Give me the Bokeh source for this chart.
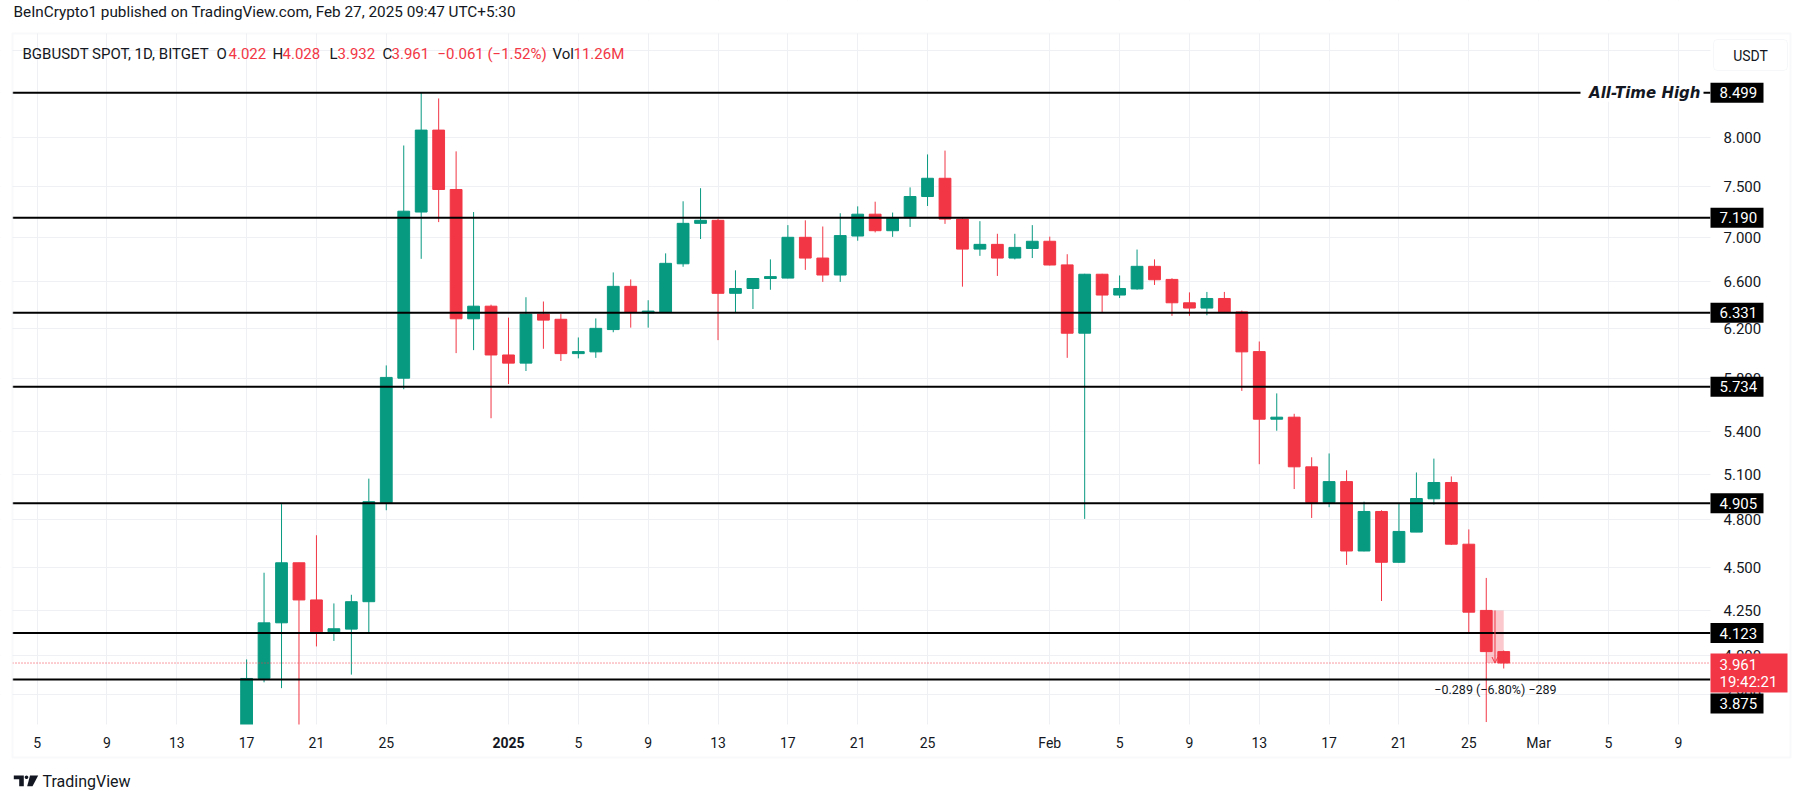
import math
import pandas as pd
from bokeh.plotting import figure
from bokeh.models import (ColumnDataSource, Range1d, FixedTicker, PrintfTickFormatter,
                          Label, BoxAnnotation, PolyAnnotation, Arrow, OpenHead)
from bokeh.embed import file_html
from bokeh.resources import INLINE

# ---------------- data ----------------
dates = pd.date_range("2024-12-17", "2025-02-27", freq="D")

opens = [3.50, 3.88, 4.18, 4.53, 4.31, 4.13, 4.145, 4.30, 4.91, 5.80, 7.245, 8.085, 7.467, 6.280, 6.387,
         5.983, 5.918, 6.320, 6.276, 5.994, 6.008, 6.19, 6.559, 6.330, 6.334, 6.76, 7.136, 7.165, 6.498,
         6.54, 6.628, 6.632, 7.004, 6.812, 6.659, 7.016, 7.224, 7.066, 7.19, 7.397, 7.58, 7.177, 6.894,
         6.938, 6.812, 6.90,
         6.967, 6.75, 6.16, 6.666, 6.483, 6.536, 6.737, 6.62, 6.416, 6.371, 6.453, 6.338, 6.01, 5.490,
         5.505, 5.151, 4.911, 5.05, 4.602, 4.852, 4.533, 4.72, 4.935, 5.044, 4.644, 4.250, 4.022]
highs = [3.98, 4.47, 4.90, 4.53, 4.70, 4.29, 4.34, 5.07, 5.90, 7.92, 8.499, 8.435, 7.858, 7.245, 6.40,
         6.290, 6.464, 6.427, 6.320, 6.125, 6.283, 6.682, 6.620, 6.438, 6.855, 7.350, 7.480, 7.18, 6.701,
         6.63, 6.800, 7.119, 7.165, 7.106, 7.233, 7.300, 7.346, 7.24, 7.488, 7.826, 7.866, 7.19, 7.157,
         7.037, 7.037, 7.119,
         7.01, 6.847, 6.67, 6.67, 6.655, 6.890, 6.800, 6.63, 6.506, 6.51, 6.51, 6.35, 6.092, 5.683,
         5.53, 5.217, 5.244, 5.127, 4.916, 4.86, 4.902, 5.112, 5.208, 5.085, 4.737, 4.439, 4.028]
lows = [3.45, 3.86, 3.83, 3.60, 4.05, 4.08, 3.90, 4.123, 4.86, 5.715, 6.805, 7.148, 5.998, 6.022, 5.497,
        5.755, 5.856, 6.033, 5.935, 5.956, 5.96, 6.168, 6.206, 6.206, 6.33, 6.733, 6.988, 6.103, 6.334,
        6.363, 6.529, 6.63, 6.705, 6.598, 6.598, 6.972, 7.05, 7.008, 7.102, 7.304, 7.131, 6.556, 6.832,
        6.651, 6.80, 6.812,
        6.745, 5.96, 4.804, 6.334, 6.457, 6.53, 6.571, 6.305, 6.305, 6.31, 6.33, 5.702, 5.169, 5.406,
        5.000, 4.810, 4.880, 4.517, 4.60, 4.304, 4.53, 4.72, 4.897, 4.64, 4.118, 3.660, 3.932]
closes = [3.88, 4.18, 4.53, 4.31, 4.13, 4.147, 4.30, 4.916, 5.806, 7.253, 8.085, 7.467, 6.280, 6.387, 5.983,
          5.918, 6.320, 6.269, 5.994, 6.010, 6.200, 6.559, 6.334, 6.345, 6.764, 7.136, 7.165, 6.498, 6.540,
          6.628, 6.645, 7.004, 6.812, 6.659, 7.020, 7.224, 7.066, 7.190, 7.397, 7.580, 7.177, 6.894, 6.938,
          6.812, 6.910, 6.967,
          6.749, 6.160, 6.666, 6.483, 6.540, 6.737, 6.617, 6.416, 6.371, 6.453, 6.338, 6.008, 5.490, 5.505,
          5.151, 4.911, 5.050, 4.602, 4.852, 4.533, 4.724, 4.937, 5.044, 4.644, 4.240, 4.022, 3.961]

levels = [8.499, 7.190, 6.331, 5.734, 4.905, 4.123, 3.875]
level_texts = ["8.499", "7.190", "6.331", "5.734", "4.905", "4.123", "3.875"]
ath_level = 8.499
ath_text = "All-Time High"

last_price = 3.961
last_price_text = "3.961"
countdown_text = "19:42:21"

measure_from = 4.250
measure_to = 3.961
measure_dates = ["2025-02-26", "2025-02-27"]
measure_text = "\u22120.289 (\u22126.80%) \u2212289"

y_ticks = [3.8, 4.0, 4.25, 4.5, 4.8, 5.1, 5.4, 5.8, 6.2, 6.6, 7.0, 7.5, 8.0, 8.5, 9.0]
x_tick_dates = ["2024-12-05", "2024-12-09", "2024-12-13", "2024-12-17", "2024-12-21", "2024-12-25",
                "2025-01-01", "2025-01-05", "2025-01-09", "2025-01-13", "2025-01-17", "2025-01-21",
                "2025-01-25", "2025-02-01", "2025-02-05", "2025-02-09", "2025-02-13", "2025-02-17",
                "2025-02-21", "2025-02-25", "2025-03-01", "2025-03-05", "2025-03-09"]
x_tick_labels = ["5", "9", "13", "17", "21", "25", "2025", "5", "9", "13", "17", "21", "25",
                 "Feb", "5", "9", "13", "17", "21", "25", "Mar", "5", "9"]

header_text = "BeInCrypto1 published on TradingView.com, Feb 27, 2025 09:47 UTC+5:30"
legend_parts = [("BGBUSDT SPOT, 1D, BITGET", "#131722"), ("O", "#131722"), ("4.022", "#F23645"),
                ("H", "#131722"), ("4.028", "#F23645"), ("L", "#131722"), ("3.932", "#F23645"),
                ("C", "#131722"), ("3.961", "#F23645"), ("\u22120.061 (\u22121.52%)", "#F23645"),
                ("Vol", "#131722"), ("11.26M", "#F23645")]

# ---------------- styling / layout helpers ----------------
UP, DOWN, INK = "#089981", "#F23645", "#131722"
DAY = 86400000.0


def ms(d):
    return pd.Timestamp(d).value / 1e6


# mapping between page pixels and data space (log price scale)
X_REF, PX_REF, PX_PER_DAY = ms("2025-02-25"), 1468.3, 17.46
LN_REF, PY_REF, PX_PER_LN = math.log(8.499), 92.3, 746.9


def fx(px):
    return X_REF + (px - PX_REF) / PX_PER_DAY * DAY


def fy(py):
    return math.exp(LN_REF - (py - PY_REF) / PX_PER_LN)


def py_of(v):
    return PY_REF + (LN_REF - math.log(v)) * PX_PER_LN


W, H = 1800, 800
PANE_L, PANE_R, PANE_T, PANE_B = 12, 1710, 33, 724

p = figure(width=W, height=H, x_axis_type="datetime", y_axis_type="log",
           y_axis_location="right", x_range=Range1d(fx(0), fx(W)),
           y_range=Range1d(fy(H), fy(0)), toolbar_location=None, output_backend="svg",
           min_border=0, min_border_left=0, min_border_right=0, min_border_top=0,
           min_border_bottom=0)
p.outline_line_color = None
p.background_fill_color = "white"
p.border_fill_color = "white"

# axes (drawn inside the frame at the pane edges) / grids
yt = FixedTicker(ticks=y_ticks, minor_ticks=[])
p.yaxis.ticker = yt
p.ygrid.ticker = yt
p.yaxis.formatter = PrintfTickFormatter(format="%.3f")
xt = FixedTicker(ticks=[ms(d) for d in x_tick_dates], minor_ticks=[])
p.xaxis.ticker = xt
p.xgrid.ticker = xt
p.xaxis.major_label_overrides = {ms(d): ("" if lab == "2025" else lab)
                                 for d, lab in zip(x_tick_dates, x_tick_labels)}
p.yaxis.fixed_location = fx(PANE_R)
p.xaxis.fixed_location = fy(PANE_B)
for ax in (p.xaxis, p.yaxis):
    ax.axis_line_color = None
    ax.major_tick_line_color = None
    ax.minor_tick_line_color = None
    ax.major_label_text_color = INK
    ax.major_label_text_font = "Roboto"
    ax.level = "annotation"
p.xaxis.major_label_text_font_size = "14px"
p.yaxis.major_label_text_font_size = "15px"
p.xaxis.major_label_standoff = 4
p.yaxis.major_label_standoff = 7
for g in (p.xgrid, p.ygrid):
    g.grid_line_color = "#eef0f3"
    g.grid_line_width = 1

HAS_ANCHOR = "anchor" in Label.properties()


def box(x0, x1, y0, y1, fill, line=None, lw=1, alpha=1.0, radius=0, level="annotation"):
    p.add_layout(BoxAnnotation(left=fx(x0), right=fx(x1), top=fy(y0), bottom=fy(y1),
                               fill_color=fill, fill_alpha=alpha, line_color=line,
                               line_width=lw, border_radius=radius, level=level))


def label(text, x, py, size="15px", color=INK, align="left", font="Roboto", style="normal",
          level="annotation"):
    kw = {}
    if HAS_ANCHOR:
        kw["anchor"] = {"left": "center_left", "center": "center", "right": "center_right"}[align]
    p.add_layout(Label(x=x, y=fy(py), text=text, text_font=font, text_font_size=size,
                       text_color=color, text_align=align, text_baseline="middle",
                       text_font_style=style, level=level, **kw))


# candles
colors = [UP if c >= o else DOWN for o, c in zip(opens, closes)]
src = ColumnDataSource(dict(
    x=[ms(d) for d in dates], high=highs, low=lows,
    top=[max(o, c) for o, c in zip(opens, closes)],
    bottom=[min(o, c) for o, c in zip(opens, closes)], color=colors))
p.segment(x0="x", y0="low", x1="x", y1="high", line_color="color", line_width=1, source=src)
p.vbar(x="x", width=0.675 * DAY, top="top", bottom="bottom", fill_color="color",
       line_color="color", line_width=1, source=src)

# measure tool drawing
p.quad(left=[ms(measure_dates[0])], right=[ms(measure_dates[1])], top=[measure_from],
       bottom=[measure_to], fill_color=DOWN, fill_alpha=0.27, line_color=None)
mid_x = (ms(measure_dates[0]) + ms(measure_dates[1])) / 2
p.add_layout(Arrow(end=OpenHead(size=6, line_color=DOWN, line_width=1),
                   x_start=mid_x, y_start=measure_from, x_end=mid_x, y_end=measure_to,
                   line_color=DOWN, line_width=1))

# horizontal levels + dotted price line, across the pane only
p.segment(x0=[fx(PANE_L)] * len(levels), x1=[fx(PANE_R)] * len(levels), y0=levels, y1=levels,
          line_color="black", line_width=2)
p.segment(x0=[fx(PANE_L)], x1=[fx(PANE_R)], y0=[last_price], y1=[last_price],
          line_color=DOWN, line_width=1, line_dash="1 2")

# white covers outside the pane (hide grid lines and clipped candle parts)
box(0, W, 0, PANE_T, "white", level="guide")
box(0, W, PANE_B, H, "white", level="guide")
box(0, PANE_L, PANE_T, PANE_B, "white", level="guide")
box(PANE_R, W, PANE_T, PANE_B, "white", level="guide")

# panel border
box(12, 1790, 33, 757, "white", line="#e9ebef", lw=2, alpha=0.0)

# All-Time High tag on the 8.499 line
ath_y = py_of(ath_level)
box(1580, 1703, ath_y - 9, ath_y + 9, "white")
label(ath_text, fx(1700), ath_y, size="15px", font="DejaVu Sans", style="bold italic", align="right")

# price-scale tags
for lv, txt in zip(levels, level_texts):
    cy = py_of(lv)
    if txt == "3.875":
        cy = 703
    box(1710, 1763, cy - 10, cy + 10, "black", level="overlay")
    label(txt, fx(1719), cy, size="15px", color="white", level="overlay")

box(1710, 1787, 653, 692, DOWN, level="overlay")
label(last_price_text, fx(1719), 663.5, size="15px", color="white", level="overlay")
label(countdown_text, fx(1719), 681.5, size="15px", color="white", level="overlay")

# measure text
label(measure_text, fx(1495), 689, size="12.5px", align="center")

# USDT box
box(1713, 1787, 39, 70, "white", line="#e0e3eb", radius=4, level="overlay")
label("USDT", fx(1750), 55, size="14px", align="center", level="overlay")

# bold year label on the time axis
label("2025", ms("2025-01-01"), 742, size="14px", align="center", style="bold")

# header and legend
label(header_text, fx(13), 11.5, size="15.3px")
legend_x = [22, 216, 228, 272, 282, 329, 337, 382, 391, 437, 552, 573]
for (txt, col), lx in zip(legend_parts, legend_x):
    label(txt, fx(lx), 53, size="15px", color=col)

# footer logo + text
p.add_layout(PolyAnnotation(xs=[fx(v) for v in [13.3, 23.3, 23.3, 18.7, 18.7, 13.3]],
                            ys=[fy(v) for v in [775, 775, 785.7, 785.7, 778.7, 778.7]],
                            fill_color=INK, fill_alpha=1, line_color=None))
circ = [(26 + 1.8 * math.cos(t * math.pi / 8), 776.8 + 1.8 * math.sin(t * math.pi / 8)) for t in range(16)]
p.add_layout(PolyAnnotation(xs=[fx(a) for a, b in circ], ys=[fy(b) for a, b in circ],
                            fill_color=INK, fill_alpha=1, line_color=None))
p.add_layout(PolyAnnotation(xs=[fx(v) for v in [29.5, 37.7, 32.0, 26.7]],
                            ys=[fy(v) for v in [775, 775, 785.7, 785.7]],
                            fill_color=INK, fill_alpha=1, line_color=None))
label("TradingView", fx(42), 781, size="16px")

open("out.html", "w").write(file_html(p, INLINE))
